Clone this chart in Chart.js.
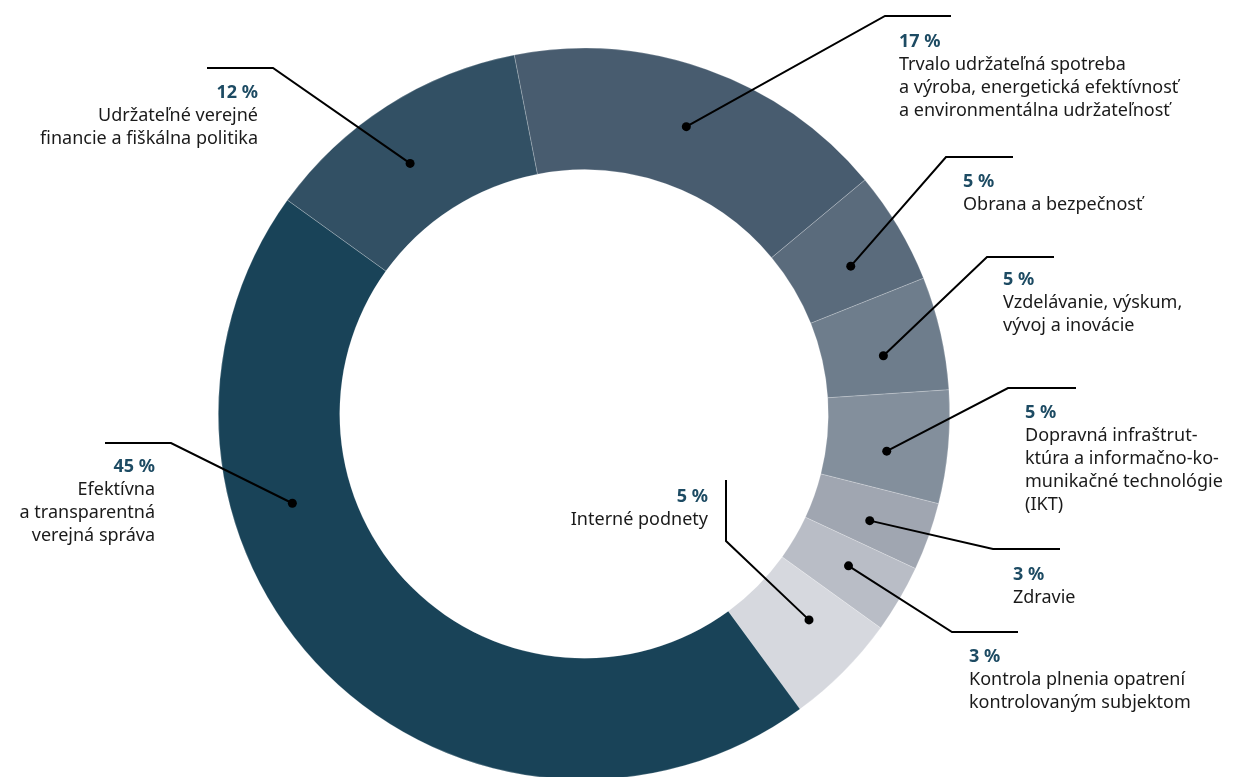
<!DOCTYPE html>
<html lang="sk">
<head>
<meta charset="utf-8">
<title>Podnety podľa oblastí</title>
<script src="https://cdn.jsdelivr.net/npm/chart.js@4"></script>
<style>
  html, body { margin: 0; padding: 0; background: #fff; overflow: hidden; }
  #wrap { position: absolute; left: 0; top: 0; width: 1233px; height: 782px; }
</style>
</head>
<body>
<div id="wrap"><canvas id="chart-oblasti"></canvas></div>
<script>
// Oblasti (každý riadok popisu zvlášť)
const oblasti = [
  ['Trvalo udržateľná spotreba', 'a výroba, energetická efektívnosť', 'a environmentálna udržateľnosť'],
  ['Obrana a bezpečnosť'],
  ['Vzdelávanie, výskum,', 'vývoj a inovácie'],
  ['Dopravná infraštrut-', 'ktúra a informačno-ko-', 'munikačné technológie', '(IKT)'],
  ['Zdravie'],
  ['Kontrola plnenia opatrení', 'kontrolovaným subjektom'],
  ['Interné podnety'],
  ['Efektívna', 'a transparentná', 'verejná správa'],
  ['Udržateľné verejné', 'financie a fiškálna politika']
];
// podiel v percentách
const podiely = [17, 5, 5, 5, 3, 3, 5, 45, 12];
const farby = ['#485c6f', '#5a6b7c', '#6e7d8c', '#838f9c', '#a0a6b1', '#b9bdc6', '#d6d8de', '#194358', '#325064'];

// rozloženie popisov: lom čiary, koniec čiary, začiatok textu, poloha bodky v oblúku
const popisy = [
  { lom: [885, 16],  koniec: [951, 16],   text: [899, 42],  zarovnanie: 'left', poloha: 0.5 },
  { lom: [946, 157], koniec: [1013, 157], text: [963, 182], zarovnanie: 'left', poloha: 0.6 },
  { lom: [987, 257], koniec: [1054, 257], text: [1003, 280], zarovnanie: 'left', poloha: 0.6 },
  { lom: [1008, 388], koniec: [1076, 388], text: [1025, 413], zarovnanie: 'left', poloha: 0.6 },
  { lom: [993, 549], koniec: [1060, 549], text: [1013, 575], zarovnanie: 'left', poloha: 0.58 },
  { lom: [952, 632], koniec: [1018, 632], text: [969, 657], zarovnanie: 'left', poloha: 0.45 },
  { lom: [726, 541], koniec: [726, 480], text: [708, 497], zarovnanie: 'right', poloha: 0.37 },
  { lom: [171, 443], koniec: [105, 443], text: [155, 467], zarovnanie: 'right', poloha: 0.674 },
  { lom: [273, 68],  koniec: [207, 68],  text: [258, 93],  zarovnanie: 'right', poloha: 0.45 }
];

const popisyPlugin = {
  id: 'popisy',
  afterDraw(chart) {
    const ctx = chart.ctx;
    const arcs = chart.getDatasetMeta(0).data;
    ctx.save();
    arcs.forEach((arc, i) => {
      const p = popisy[i];
      const uhol = arc.startAngle + (arc.endAngle - arc.startAngle) * p.poloha;
      const r = (arc.innerRadius + arc.outerRadius) / 2;
      const bx = arc.x + Math.cos(uhol) * r;
      const by = arc.y + Math.sin(uhol) * r;

      // čiara
      ctx.strokeStyle = '#000';
      ctx.lineWidth = 2;
      ctx.lineJoin = 'miter';
      ctx.beginPath();
      ctx.moveTo(bx, by);
      ctx.lineTo(p.lom[0], p.lom[1]);
      ctx.lineTo(p.koniec[0], p.koniec[1]);
      ctx.stroke();

      // bodka
      ctx.fillStyle = '#000';
      ctx.beginPath();
      ctx.arc(bx, by, 4.5, 0, Math.PI * 2);
      ctx.fill();

      // text
      ctx.textAlign = p.zarovnanie;
      ctx.textBaseline = 'middle';
      ctx.fillStyle = '#1d4b63';
      ctx.font = 'bold 18px "Noto Sans"';
      ctx.fillText(podiely[i] + ' %', p.text[0], p.text[1]);
      ctx.fillStyle = '#1a1a1a';
      ctx.font = '18px "Noto Sans"';
      oblasti[i].forEach((riadok, j) => {
        ctx.fillText(riadok, p.text[0], p.text[1] + 23 * (j + 1));
      });
    });
    ctx.restore();
  }
};

new Chart('chart-oblasti', {
  type: 'doughnut',
  data: {
    labels: oblasti.map(o => o.join(' ')),
    datasets: [{
      data: podiely,
      backgroundColor: farby,
      borderColor: 'rgba(255,255,255,0.35)',
      borderWidth: 0.6,
      hoverOffset: 0
    }]
  },
  options: {
    responsive: true,
    maintainAspectRatio: false,
    animation: false,
    events: [],
    rotation: -11,
    cutout: '66.8%',
    layout: { padding: { left: 218, right: 283, top: 48, bottom: 2 } },
    plugins: {
      legend: { display: false },
      tooltip: { enabled: false }
    }
  },
  plugins: [popisyPlugin]
});
</script>
</body>
</html>
